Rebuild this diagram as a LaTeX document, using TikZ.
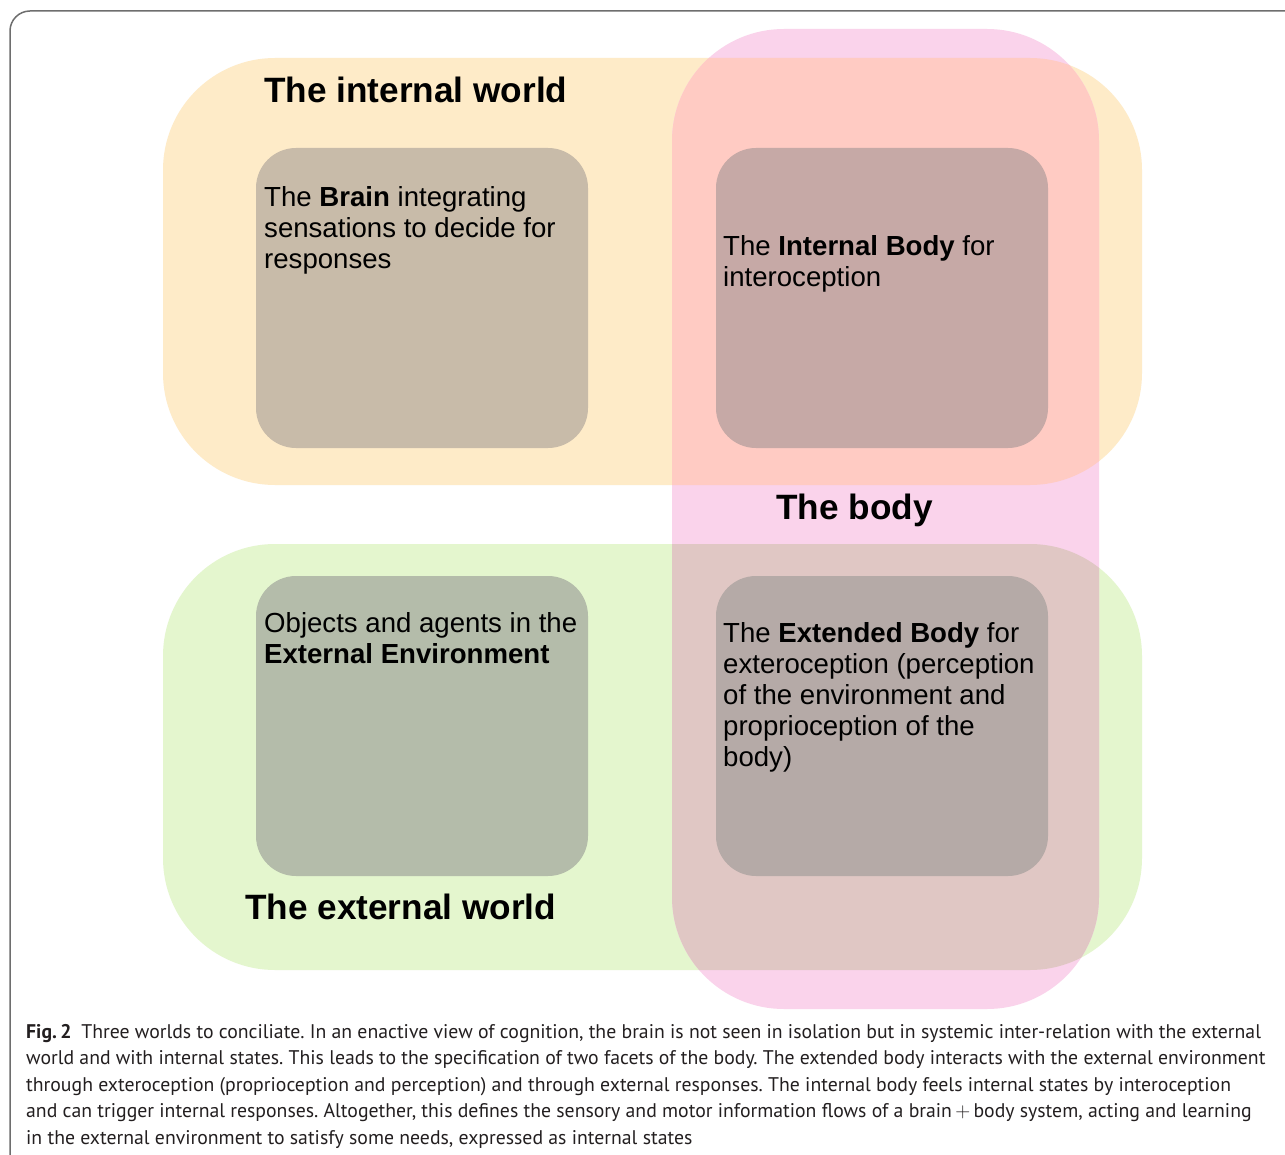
\documentclass[tikz,border=0pt]{standalone}
\usepackage{fontspec}
\setmainfont{Liberation Sans}
\newfontfamily\capfont{PT Sans}
\definecolor{internalc}{HTML}{FEEBC8}
\definecolor{externalc}{HTML}{E4F6CE}
\definecolor{bodyc}{HTML}{FAD3EB}
\definecolor{intbodyc}{HTML}{FFCBC3}
\definecolor{extbodyc}{HTML}{E0C7C4}
\definecolor{brainbox}{HTML}{C8BBA9}
\definecolor{intbox}{HTML}{C6A9A6}
\definecolor{envbox}{HTML}{B4BCAA}
\definecolor{extbox}{HTML}{B5AAA7}
\definecolor{framec}{HTML}{6E6E6E}
\definecolor{capc}{HTML}{231F20}
\newcommand{\txtlines}[1]{\begin{tabular}[t]{@{}l@{}}#1\end{tabular}}
\frenchspacing
\begin{document}
\begin{tikzpicture}[x=1pt,y=-1pt,
  bigregion/.style={rounded corners=112},
  innerbox/.style={rounded corners=40},
  worldtitle/.style={anchor=base west, inner sep=0pt, font=\fontsize{35.2}{40}\selectfont\bfseries},
  boxtext/.style={anchor=base west, inner sep=0pt, font=\fontsize{27.6}{31}\selectfont},
  captext/.style={anchor=base west, inner sep=0pt, text=capc, font=\capfont\fontsize{19.75}{26.5}\selectfont}]
\useasboundingbox (0,0) rectangle (1285,1155);
\clip (0,0) rectangle (1285,1155);
\fill[white] (0,0) rectangle (1285,1155);
% frame
\draw[framec, line width=1.5pt] (10,1200) -- (10,31) arc[start angle=180, end angle=270, radius=20] -- (1300,11);
% regions
\fill[internalc, bigregion] (163,58) rectangle (1142,485);
\fill[externalc, bigregion] (163,544) rectangle (1142,970);
\fill[bodyc, bigregion] (672,29) rectangle (1099,1009);
\begin{scope}
  \clip[bigregion] (672,29) rectangle (1099,1009);
  \fill[intbodyc, bigregion] (163,58) rectangle (1142,485);
  \fill[extbodyc, bigregion] (163,544) rectangle (1142,970);
\end{scope}
% inner boxes
\fill[brainbox, innerbox] (256,148) rectangle (588,448);
\fill[intbox, innerbox] (716,148) rectangle (1048,448);
\fill[envbox, innerbox] (256,576) rectangle (588,876);
\fill[extbox, innerbox] (716,576) rectangle (1048,876);
% titles
\node[worldtitle] (tinternal) at (264,103) {The internal world};
\node[worldtitle] (tbody) at (776,519) {The body};
\node[worldtitle] (texternal) at (245,919) {The external world};
% box texts
\node[boxtext] (brain) at (264,207) {\txtlines{The \textbf{Brain} integrating\\ sensations to decide for\\ responses}};
\node[boxtext] (intbody) at (723,256) {\txtlines{The \textbf{Internal Body} for\\ interoception}};
\node[boxtext] (env) at (264,632) {\txtlines{Objects and agents in the\\ \textbf{External Environment}}};
\node[boxtext] (extbody) at (723,642) {\txtlines{The \textbf{Extended Body} for\\ exteroception (perception\\ of the environment and\\ proprioception of the\\ body)}};
% caption
\node[captext] (cap) at (26,1038) {\txtlines{\textbf{Fig.\,2}\enspace Three worlds to conciliate. In an enactive view of cognition, the brain is not seen in isolation but in systemic inter-relation with the external\\
world and with internal states. This leads to the specification of two facets of the body. The extended body interacts with the external environment\\
through exteroception (proprioception and perception) and through external responses. The internal body feels internal states by interoception\\
and can trigger internal responses. Altogether, this defines the sensory and motor information flows of a brain\,$+$\,body system, acting and learning\\
in the external environment to satisfy some needs, expressed as internal states}};
\end{tikzpicture}
\end{document}
